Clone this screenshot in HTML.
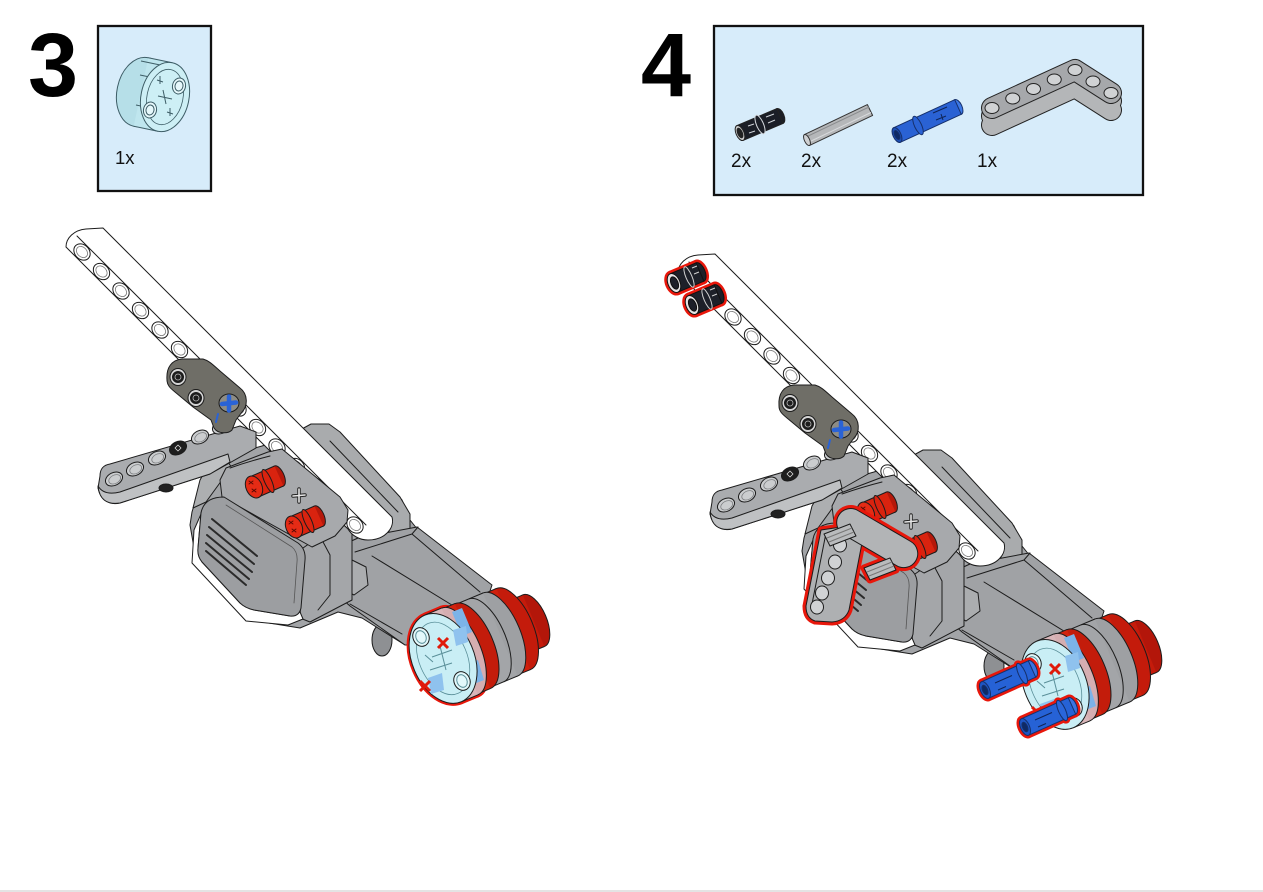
<!DOCTYPE html>
<html><head><meta charset="utf-8"><style>
html,body{margin:0;padding:0;background:#fff;width:1263px;height:892px;overflow:hidden}
svg{display:block}
</style></head><body>
<svg width="1263" height="892" viewBox="0 0 1263 892" xmlns="http://www.w3.org/2000/svg" xmlns:xlink="http://www.w3.org/1999/xlink">
<defs>
<g id="wh"><ellipse cx="0" cy="0" rx="9" ry="7.2" fill="#fff"/><ellipse cx="0" cy="0" rx="6.3" ry="4.8" fill="none" stroke="#777" stroke-width=".8"/></g>
<g id="gh"><ellipse cx="0" cy="0" rx="9" ry="6.4" fill="#cbcdcf"/><ellipse cx="0.5" cy="0.6" rx="6.3" ry="4.2" fill="none" stroke="#7d7f82" stroke-width=".8"/></g>
<g id="rpin">
 <ellipse cx="279" cy="476" rx="5" ry="11" transform="rotate(-24 279 476)" fill="#b5180a"/>
 <polygon points="249.5,477 274.5,466 283.5,486 258.5,497" fill="#d9230f" stroke="none"/>
 <path d="M249.5,477 L274.5,466 M258.5,497 L283.5,486" fill="none"/>
 <ellipse cx="268" cy="481" rx="3.5" ry="12.5" transform="rotate(-24 268 481)" fill="#d9230f"/>
 <ellipse cx="254" cy="487" rx="8" ry="11.5" transform="rotate(-24 254 487)" fill="#e52b15"/>
 <path d="M249,481 l4,3 M253,481 l-4,3 M252,489 l4,3 M256,489 l-4,3" stroke="#5a0a05" fill="none" stroke-width="1"/>
</g>
<g id="body" stroke="#1c1c1c" stroke-width="1" stroke-linejoin="round" stroke-linecap="round">
 <ellipse cx="382" cy="640" rx="10" ry="16" fill="#8e9093"/>
 <path fill="#a2a4a7" d="M192,512 L205,468 L216,459 L262,446 L303,432 L312,425 L330,426 L402,500 L410,520 L418,530 L490,585 L470,645 L405,645 L362,618 L338,612 L300,628 L250,620 L197,565 L190,525 Z"/>
 <path fill="#adafb1" d="M193,508 L200,480 L208,466 L226,459 L232,468 L222,480 L206,502 Z"/>
 <path fill="#a9abad" d="M300,430 L311,424 L329,424 L340,432 L400,497 L410,514 L410,532 L397,541 Z"/>
 <path fill="none" d="M330,441 L398,512"/>
 <path fill="#a0a2a5" d="M336,548 L358,538 L417,527 L492,585 L472,645 L405,645 L350,606 L334,592 Z"/>
 <path fill="none" d="M355,552 L412,534 L480,592 M372,556 L460,610 M350,604 L402,634 M412,534 L418,527"/>
 <path fill="#abadaf" d="M337,566 L352,560 L366,567 L368,585 L354,595 L339,587 Z"/>
 <path fill="#a4a6a9" d="M303,548 L340,522 L352,532 L352,600 L310,622 L300,618 Z"/>
 <path fill="none" d="M322,540 L330,555 L330,595 L318,610"/>
 <!-- white beam -->
 <path fill="#fff" d="M66,247 C66,238 74,230 86,229 L103,228 L392,517 C395,528 385,540 368,540 C360,540 352,536 348,529 Z"/>
 <path fill="none" d="M77,236 L366,525"/>
 <use href="#wh" transform="translate(82,252) rotate(45)"/>
 <use href="#wh" transform="translate(101.5,271.5) rotate(45)"/>
 <use href="#wh" transform="translate(121,291) rotate(45)"/>
 <use href="#wh" transform="translate(140.5,310.5) rotate(45)"/>
 <use href="#wh" transform="translate(160,330) rotate(45)"/>
 <use href="#wh" transform="translate(179.5,349.5) rotate(45)"/>
 <use href="#wh" transform="translate(199,369) rotate(45)"/>
 <use href="#wh" transform="translate(218.5,388.5) rotate(45)"/>
 <use href="#wh" transform="translate(238,408) rotate(45)"/>
 <use href="#wh" transform="translate(257.5,427.5) rotate(45)"/>
 <use href="#wh" transform="translate(277,447) rotate(45)"/>
 <use href="#wh" transform="translate(296.5,466.5) rotate(45)"/>
 <use href="#wh" transform="translate(316,486) rotate(45)"/>
 <use href="#wh" transform="translate(335.5,505.5) rotate(45)"/>
 <use href="#wh" transform="translate(355,525) rotate(45)"/>
 <!-- gray arm -->
 <path fill="#aaacaf" d="M100,476 C100,468 104,465 110,464 L240,426 L256,432 L256,448 L210,474 L120,503 C108,506 100,498 98,488 Z"/>
 <path fill="#bfc1c3" d="M98,486 Q104,496 120,492 L228,454 L230,462 L210,474 L120,503 Q100,506 98,486 Z"/>
 <use href="#gh" transform="translate(114,479) rotate(-27)"/>
 <use href="#gh" transform="translate(135,469) rotate(-27)"/>
 <use href="#gh" transform="translate(157,458) rotate(-27)"/>
 <ellipse cx="178" cy="448" rx="9" ry="6.4" transform="rotate(-27 178 448)" fill="#1e1e1e"/>
 <path d="M175,448 l3,-3 l3,3 l-3,3 z" fill="none" stroke="#ddd" stroke-width=".8"/>
 <use href="#gh" transform="translate(200,437) rotate(-27)"/>
 <use href="#gh" transform="translate(221,427) rotate(-27)"/>
 <ellipse cx="166" cy="488" rx="7" ry="4" fill="#222"/>
 <!-- dark connector -->
 <path fill="#6f6e67" d="M167,380 C166,367 172,360 182,359 L203,359 C210,361 214,366 220,371 L240,388 C248,394 248,406 242,412 L236,420 L232,430 C228,434 218,434 214,428 L211,420 L193,407 L175,392 C170,388 167,385 167,380 Z"/>
 <ellipse cx="178" cy="377" rx="8" ry="8.5" fill="#d5d5d5"/>
 <circle cx="178" cy="377" r="5.5" fill="#1d1d1d"/>
 <circle cx="178" cy="377" r="3" fill="none" stroke="#bbb" stroke-width=".8"/>
 <ellipse cx="196" cy="398" rx="8" ry="8.5" fill="#d5d5d5"/>
 <circle cx="196" cy="398" r="5.5" fill="#1d1d1d"/>
 <circle cx="196" cy="398" r="3" fill="none" stroke="#bbb" stroke-width=".8"/>
 <ellipse cx="229" cy="403" rx="10" ry="9" fill="#8d8c85"/>
 <path d="M222,404 L236,402.5 M229,396.5 L229,410.5" stroke="#2a63d6" stroke-width="4.5" fill="none"/>
 <path d="M218,414 L216,422" stroke="#2a63d6" stroke-width="2" fill="none"/>
 <!-- front block -->
 <path fill="#a7a9ac" d="M220,480 L226,468 L268,452 L282,449 L340,497 L348,510 L347,522 L335,536 L312,547 L222,497 Z"/>
 <path fill="none" d="M230,468 Q250,461 270,456"/>
 <path d="M293,496 l12,-1 M299,489 l0,13" stroke="#222" stroke-width="3.5" fill="none"/>
 <path d="M293,496 l12,-1 M299,489 l0,13" stroke="#e6e6e6" stroke-width="1.6" fill="none"/>
 <use href="#rpin"/>
 <use href="#rpin" transform="translate(40,40)"/>
 <!-- white rim & front face -->
 <path fill="#fff" d="M205,505 L194,530 L192,563 L246,621 L288,625 L303,619 L300,612 L290,616 L254,610 L240,603 L202,562 L198,548 L201,513 Z"/>
 <path fill="#9c9ea1" d="M224,497 L298,543 Q306,549 305,560 L301,608 Q299,617 290,616 L254,610 Q245,608 240,603 L202,562 Q197,556 198,548 L201,513 Q204,497 224,497 Z"/>
 <path fill="none" stroke="#555" stroke-width=".8" d="M226,505 L292,547 Q298,552 297,562 L294,603"/>
 <path fill="none" stroke="#2a2a2a" stroke-width="2" d="M212,519 L257,556 M209,527 L254,564 M207,535 L252,572 M206,543 L249,579 M206,551 L246,585"/>
</g>
<g id="hub" stroke="#1c1c1c" stroke-width="1" stroke-linejoin="round">
 <ellipse cx="533.6" cy="620.7" rx="13" ry="28" transform="rotate(-23 533.6 620.7)" fill="#b3160a"/>
 <polygon points="544.4,646.5 524.1,654.9 502.5,603.3 522.8,594.9" fill="#c51b0b" stroke="none"/>
 <path d="M544.4,646.5 L524.1,654.9 M522.8,594.9 L502.5,603.3" fill="none"/>
 <ellipse cx="513.3" cy="629.1" rx="20" ry="44" transform="rotate(-23 513.3 629.1)" fill="#c41b0b"/>
 <polygon points="530.2,669.7 517.2,675.1 483.4,593.9 496.4,588.5" fill="#d0200c" stroke="none"/>
 <path d="M530.2,669.7 L517.2,675.1 M496.4,588.5 L483.4,593.9" fill="none"/>
 <ellipse cx="500.3" cy="634.5" rx="20" ry="45" transform="rotate(-23 500.3 634.5)" fill="#9ea0a3"/>
 <polygon points="517.6,676.0 489.9,687.6 455.3,604.6 483.0,593.0" fill="#a3a5a8" stroke="none"/>
 <path d="M517.6,676.0 L489.9,687.6 M483.0,593.0 L455.3,604.6" fill="none"/>
 <path d="M503.8,681.8 A20 45 -23 0 0 469.2,598.8" fill="none"/>
 <ellipse cx="472.6" cy="646.1" rx="21" ry="46" transform="rotate(-23 472.6 646.1)" fill="#c31c0b"/>
 <polygon points="490.3,688.6 477.4,694.0 442.0,609.0 454.9,603.6" fill="#d3220e" stroke="none"/>
 <path d="M490.3,688.6 L477.4,694.0 M454.9,603.6 L442.0,609.0" fill="none"/>
 <ellipse cx="459.7" cy="651.5" rx="21" ry="47" transform="rotate(-23 459.7 651.5)" fill="#d5aeb1"/>
 <polygon points="477.8,694.9 461.2,701.8 425.0,615.0 441.6,608.1" fill="#d9b6b9" stroke="none"/>
 <path d="M477.8,694.9 L461.2,701.8 M441.6,608.1 L425.0,615.0" fill="none"/>
 <polygon points="452,612 462,608 472,632 462,636" fill="#7cb3e8" stroke="none"/>
 <polygon points="468,664 478,660 484,680 474,684" fill="#7cb3e8" stroke="none"/>
 <ellipse cx="443.1" cy="658.4" rx="31" ry="47" transform="rotate(-23 443.1 658.4)" fill="#c9eef5"/>
 <ellipse cx="443.1" cy="658.4" rx="24" ry="38" transform="rotate(-23 443.1 658.4)" fill="none" stroke="#5a8f99" stroke-width=".8"/>
 <polygon points="453,630 466,626 468,642 456,646" fill="#8fc2ee" stroke="none"/>
 <polygon points="428,678 442,673 444,690 431,694" fill="#8fc2ee" stroke="none"/>
 <ellipse cx="421" cy="637" rx="8" ry="9.5" transform="rotate(-23 421 637)" fill="#e3f8fb"/>
 <ellipse cx="421" cy="637" rx="5" ry="6.5" transform="rotate(-23 421 637)" fill="none" stroke="#5a8f99"/>
 <ellipse cx="462" cy="681" rx="8" ry="9.5" transform="rotate(-23 462 681)" fill="#e3f8fb"/>
 <ellipse cx="462" cy="681" rx="5" ry="6.5" transform="rotate(-23 462 681)" fill="none" stroke="#5a8f99"/>
 <path d="M432,657 L452,650 M440,646 L446,670 M430,670 L452,663 M425,655 L433,662" stroke="#5a8f99" fill="none"/>
 <path d="M438,638 L448,648 M448,638 L438,648 M420,681 L430,691 M430,681 L420,691" stroke="#e01a0a" stroke-width="3" fill="none"/>
</g>
<g id="hubS">
 <polygon points="477.8,694.9 461.2,701.8 425.0,615.0 441.6,608.1"/>
 <ellipse cx="443.1" cy="658.4" rx="31" ry="47" transform="rotate(-23 443.1 658.4)"/>
 <ellipse cx="459.7" cy="651.5" rx="21" ry="47" transform="rotate(-23 459.7 651.5)"/>
</g>
<g id="bpinS">
 <polygon points="981.3,681.8 1028.3,660.8 1035.7,677.2 988.7,698.2"/>
 <ellipse cx="985" cy="690" rx="4.5" ry="9" transform="rotate(-24 985 690)"/>
 <ellipse cx="1032" cy="669" rx="4.5" ry="9" transform="rotate(-24 1032 669)"/>
 <ellipse cx="1022" cy="673.5" rx="3.5" ry="11" transform="rotate(-24 1022 673.5)"/>
</g>
<g id="bpin" stroke="#16306b" stroke-width="1" stroke-linejoin="round">
 <ellipse cx="1032" cy="669" rx="4.5" ry="9" transform="rotate(-24 1032 669)" fill="#3b74e3"/>
 <polygon points="981.3,681.8 1028.3,660.8 1035.7,677.2 988.7,698.2" fill="#2662d6"/>
 <ellipse cx="1022" cy="673.5" rx="3.5" ry="11" transform="rotate(-24 1022 673.5)" fill="#2a66da"/>
 <path d="M995,683 L1012,675.5 M998,690 L1006,686.5" stroke="#0f2456" fill="none"/>
 <ellipse cx="985" cy="690" rx="4.5" ry="9" transform="rotate(-24 985 690)" fill="#1e55c4"/>
 <ellipse cx="985" cy="690" rx="2.5" ry="5" transform="rotate(-24 985 690)" fill="#0e2a66"/>
</g>
<g id="kpinS">
 <ellipse cx="700" cy="272" rx="5" ry="10" transform="rotate(-23 700 272)"/>
 <polygon points="670.1,273.8 696.1,262.8 703.9,281.2 677.9,292.2"/>
 <ellipse cx="674" cy="283" rx="6" ry="10" transform="rotate(-23 674 283)"/>
</g>
<g id="kpin" stroke="#111" stroke-width="1" stroke-linejoin="round">
 <ellipse cx="700" cy="272" rx="5" ry="10" transform="rotate(-23 700 272)" fill="#1d2029"/>
 <polygon points="670.1,273.8 696.1,262.8 703.9,281.2 677.9,292.2" fill="#1d2029"/>
 <ellipse cx="689" cy="277" rx="3" ry="11" transform="rotate(-23 689 277)" fill="#1d2029" stroke="#d0d0d0"/>
 <path d="M692,268 l5,-2 M694,274 l5,-2" stroke="#d0d0d0" fill="none"/>
 <ellipse cx="674" cy="283" rx="6" ry="10" transform="rotate(-23 674 283)" fill="#e5e5e5"/>
 <ellipse cx="674.5" cy="283" rx="3.5" ry="6.5" transform="rotate(-23 674.5 283)" fill="#1d2029"/>
</g>
</defs>

<!-- headers -->
<text x="28" y="96" font-family="'Liberation Sans', Arial, sans-serif" font-weight="bold" font-size="90" fill="#000">3</text>
<rect x="98" y="26" width="113" height="165" fill="#d7ecfa" stroke="#111" stroke-width="2.3"/>
<g stroke="#3d5d66" stroke-width="1" stroke-linejoin="round">
 <ellipse cx="141" cy="92" rx="24" ry="35" transform="rotate(12 141 92)" fill="#b6dfe8"/>
 <polygon points="172.3,62.8 148.3,57.8 133.7,126.2 157.7,131.2" fill="#bfe6ee" stroke="none"/>
 <path d="M172.3,62.8 L148.3,57.8 M157.7,131.2 L133.7,126.2 M165,66 L141,61 M168,125 L144,120 M140,75 L164,80 M136,105 L160,110" fill="none"/>
 <ellipse cx="165" cy="97" rx="24" ry="35" transform="rotate(12 165 97)" fill="#cdeff5"/>
 <ellipse cx="165" cy="97" rx="18" ry="28" transform="rotate(12 165 97)" fill="none" stroke-width=".8"/>
 <ellipse cx="150" cy="110" rx="6.5" ry="8" transform="rotate(12 150 110)" fill="#e6f8fb"/>
 <ellipse cx="150" cy="110" rx="4" ry="5" transform="rotate(12 150 110)" fill="none"/>
 <ellipse cx="179" cy="86" rx="6.5" ry="8" transform="rotate(12 179 86)" fill="#e6f8fb"/>
 <ellipse cx="179" cy="86" rx="4" ry="5" transform="rotate(12 179 86)" fill="none"/>
 <path d="M157,80 l6,2 M160,76 l0,8 M167,112 l6,2 M170,108 l0,8 M158,96 L172,99 M163,90 L166,104" fill="none"/>
</g>
<text x="115" y="164" font-family="'Liberation Sans', Arial, sans-serif" font-size="18.5" fill="#111">1x</text>

<text x="641" y="96" font-family="'Liberation Sans', Arial, sans-serif" font-weight="bold" font-size="90" fill="#000">4</text>
<rect x="714" y="26" width="429" height="169" fill="#d7ecfa" stroke="#111" stroke-width="2.3"/>
<!-- black pin -->
<g stroke="#222" stroke-width="1" stroke-linejoin="round">
 <ellipse cx="780" cy="116" rx="4" ry="8" transform="rotate(-23 780 116)" fill="#1b1e26"/>
 <polygon points="743.1,140.4 783.1,123.4 776.9,108.6 736.9,125.6" fill="#1b1e26"/>
 <ellipse cx="760" cy="124.5" rx="3.5" ry="10" transform="rotate(-23 760 124.5)" fill="#1b1e26" stroke="#d5d8dc"/>
 <path d="M766,117 l8,-3 M768,123 l7,-3 M748,126 l6,-2 M749,133 l6,-2" stroke="#cfd3d8" fill="none"/>
 <ellipse cx="740" cy="133" rx="4" ry="8" transform="rotate(-23 740 133)" fill="#c8c8c8"/>
 <ellipse cx="740" cy="133" rx="2.3" ry="5" transform="rotate(-23 740 133)" fill="#222"/>
</g>
<!-- axle -->
<g stroke="#333" stroke-width="1" stroke-linejoin="round">
 <polygon points="809.6,145.4 872.6,115.4 867.4,104.6 804.4,134.6" fill="#b5b7b9"/>
 <path d="M806,137 L869,107" stroke="#8a8c8e" fill="none"/>
 <path d="M808,142.5 L871,112.5" stroke="#d8dadc" fill="none"/>
 <ellipse cx="807" cy="140" rx="2.6" ry="6" transform="rotate(-25 807 140)" fill="#cfd1d3"/>
</g>
<!-- blue pin -->
<g stroke="#16306b" stroke-width="1" stroke-linejoin="round">
 <ellipse cx="958" cy="107" rx="4" ry="8" transform="rotate(-25 958 107)" fill="#3c78e6"/>
 <polygon points="900.3,142.3 961.3,114.3 954.7,99.7 893.7,127.7" fill="#2a62d4"/>
 <ellipse cx="918" cy="125.5" rx="3.5" ry="10" transform="rotate(-25 918 125.5)" fill="#2a62d4"/>
 <path d="M933,113 l14,-6 M936,120 l10,-4 M941,114 l2,6" stroke="#0f2456" fill="none"/>
 <ellipse cx="897" cy="135" rx="4" ry="8" transform="rotate(-25 897 135)" fill="#1d4fb5"/>
 <ellipse cx="897" cy="135" rx="2.3" ry="4.8" transform="rotate(-25 897 135)" fill="#0e2a66"/>
</g>
<!-- L beam icon -->
<g fill="none" stroke-linecap="round" stroke-linejoin="round">
 <path d="M992,125 L1075,87 L1111,110" stroke="#222" stroke-width="22"/>
 <path d="M992,116 L1075,78 L1111,101" stroke="#222" stroke-width="22"/>
 <path d="M992,125 L1075,87 L1111,110" stroke="#b4b6b8" stroke-width="20"/>
 <path d="M992,116 L1075,78 L1111,101" stroke="#b4b6b8" stroke-width="20"/>
 <path d="M992,108 L1075,70 L1111,93" stroke="#222" stroke-width="22"/>
 <path d="M992,108 L1075,70 L1111,93" stroke="#a6a8ab" stroke-width="20"/>
</g>
<g stroke="#222" stroke-width="1">
 <ellipse cx="992" cy="108" rx="7" ry="5.5" fill="#d0d2d4"/>
 <ellipse cx="1012.75" cy="98.5" rx="7" ry="5.5" fill="#d0d2d4"/>
 <ellipse cx="1033.5" cy="89" rx="7" ry="5.5" fill="#d0d2d4"/>
 <ellipse cx="1054.25" cy="79.5" rx="7" ry="5.5" fill="#d0d2d4"/>
 <ellipse cx="1075" cy="70" rx="7" ry="5.5" fill="#d0d2d4"/>
 <ellipse cx="1093" cy="81.5" rx="7" ry="5.5" fill="#d0d2d4"/>
 <ellipse cx="1111" cy="93" rx="7" ry="5.5" fill="#d0d2d4"/>
</g>
<g font-family="'Liberation Sans', Arial, sans-serif" font-size="19" fill="#111">
 <text x="731" y="167">2x</text>
 <text x="801" y="167">2x</text>
 <text x="887" y="167">2x</text>
 <text x="977" y="167">1x</text>
</g>

<!-- left model (step 3) -->
<use href="#body"/>
<g fill="#e8170b" stroke="#e8170b" stroke-width="5" stroke-linejoin="round"><use href="#hubS"/></g>
<use href="#hub"/>

<!-- right model (step 4) -->
<use href="#body" transform="translate(612,26)"/>
<use href="#hub" transform="translate(612,26)"/>

<!-- L beam with red outline -->
<g fill="#e8170b" stroke="#e8170b" stroke-width="7" stroke-linejoin="round">
 <path d="M821,530 L848,526 L862,543 L849,610 Q845,621 832,622 L815,621 Q806,618 806,606 Z"/>
 <path d="M857.8,510.5 L910.8,541.5 A14,14 0 0 1 896.6,565.7 L843.6,534.7 A14,14 0 0 1 857.8,510.5 Z"/>
 <polygon points="824,534 850,524 856,536 830,546"/>
 <polygon points="864,568 890,558 896,570 870,580"/>
</g>
<g stroke="#1c1c1c" stroke-width="1" stroke-linejoin="round">
 <path fill="#aeb0b2" d="M821,530 L848,526 L862,543 L849,610 Q845,621 832,622 L815,621 Q806,618 806,606 Z"/>
 <path fill="none" d="M812,604 L826,533"/>
 <ellipse cx="840" cy="545" rx="6.5" ry="7" fill="#d0d2d4"/>
 <ellipse cx="835" cy="562" rx="6.5" ry="7" fill="#d0d2d4"/>
 <ellipse cx="828" cy="578" rx="6.5" ry="7" fill="#d0d2d4"/>
 <ellipse cx="822" cy="593" rx="6.5" ry="7" fill="#d0d2d4"/>
 <ellipse cx="817" cy="607" rx="6.5" ry="7" fill="#d0d2d4"/>
 <path fill="#b2b4b6" d="M857.8,510.5 L910.8,541.5 A14,14 0 0 1 896.6,565.7 L843.6,534.7 A14,14 0 0 1 857.8,510.5 Z"/>
 <polygon points="824,534 850,524 856,536 830,546" fill="#b9bbbd"/>
 <path d="M827,538 L852,528 M829,542 L854,532" stroke="#777" fill="none"/>
 <polygon points="864,568 890,558 896,570 870,580" fill="#b9bbbd"/>
 <path d="M867,572 L892,562 M869,576 L894,566" stroke="#777" fill="none"/>
</g>

<!-- black pins -->
<g fill="#e8170b" stroke="#e8170b" stroke-width="6" stroke-linejoin="round">
 <use href="#kpinS"/>
 <use href="#kpinS" transform="translate(18,22)"/>
</g>
<use href="#kpin"/>
<use href="#kpin" transform="translate(18,22)"/>

<!-- blue pins -->
<g fill="#e8170b" stroke="#e8170b" stroke-width="6" stroke-linejoin="round">
 <use href="#bpinS"/>
 <use href="#bpinS" transform="translate(40,37)"/>
</g>
<use href="#bpin"/>
<use href="#bpin" transform="translate(40,37)"/>

<rect x="0" y="890" width="1263" height="2" fill="#e4e4e4"/>
</svg>
</body></html>
